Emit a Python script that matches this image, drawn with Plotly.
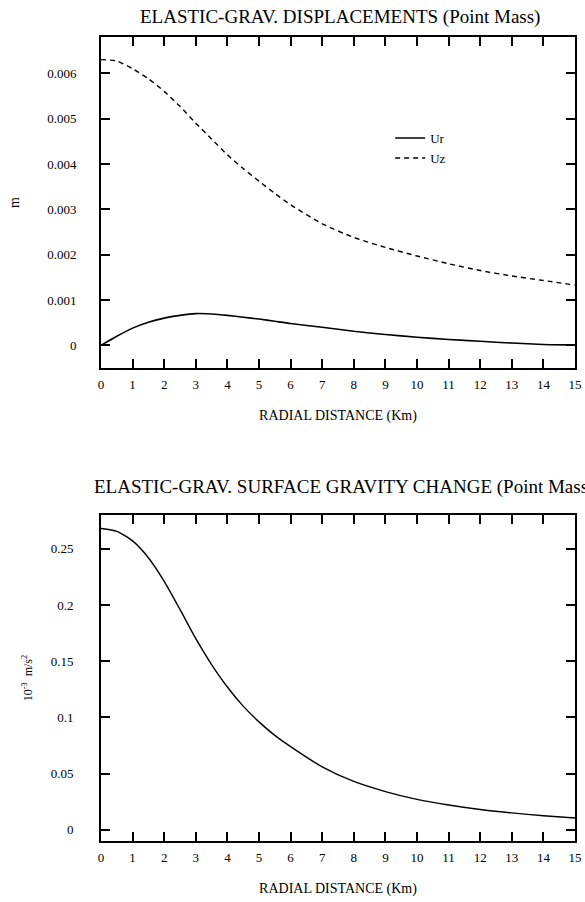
import plotly.graph_objects as go

# ---- data ----
distance_km = [0, 0.5, 1, 1.5, 2, 2.5, 3, 3.5, 4, 4.5, 5, 5.5, 6, 7, 8, 9, 10, 11, 12, 13, 14, 15]

ur_m = [0, 0.0002, 0.00038, 0.00051, 0.0006, 0.00066, 0.0007, 0.00069, 0.00066, 0.00062,
        0.00058, 0.00053, 0.00048, 0.0004, 0.00031, 0.00024, 0.00018, 0.00013, 0.00009,
        0.00005, 0.00002, 0.00001]

uz_m = [0.0063, 0.00627, 0.0061, 0.00588, 0.0056, 0.00527, 0.0049, 0.00455, 0.0042, 0.0039,
        0.00362, 0.00335, 0.0031, 0.00268, 0.00238, 0.00216, 0.00197, 0.0018, 0.00165,
        0.00153, 0.00143, 0.00133]

gravity_change = [0.268, 0.2655, 0.257, 0.242, 0.221, 0.196, 0.170, 0.147, 0.127, 0.110,
                  0.096, 0.084, 0.074, 0.056, 0.043, 0.034, 0.027, 0.022, 0.018, 0.015,
                  0.0125, 0.0105]

x_ticks = list(range(0, 16))
disp_ticks = [0, 0.001, 0.002, 0.003, 0.004, 0.005, 0.006]
disp_ticklabels = ["0", "0.001", "0.002", "0.003", "0.004", "0.005", "0.006"]
grav_ticks = [0, 0.05, 0.1, 0.15, 0.2, 0.25]
grav_ticklabels = ["0", "0.05", "0.1", "0.15", "0.2", "0.25"]

title_top = "ELASTIC-GRAV. DISPLACEMENTS (Point Mass)"
title_bottom = "ELASTIC-GRAV. SURFACE GRAVITY CHANGE (Point Mass)"
x_title = "RADIAL DISTANCE (Km)"

SERIF = "Liberation Serif, Times New Roman, serif"

fig = go.Figure()
fig.add_trace(go.Scatter(x=distance_km, y=ur_m, name="Ur", mode="lines",
                         line=dict(color="black", width=1.6, shape="spline", smoothing=0.6),
                         xaxis="x", yaxis="y"))
fig.add_trace(go.Scatter(x=distance_km, y=uz_m, name="Uz", mode="lines",
                         line=dict(color="black", width=1.4, dash="5px,4px", shape="spline", smoothing=0.6),
                         xaxis="x", yaxis="y"))
fig.add_trace(go.Scatter(x=distance_km, y=gravity_change, name="gravity change", mode="lines",
                         showlegend=False,
                         line=dict(color="black", width=1.4, shape="spline", smoothing=0.6),
                         xaxis="x2", yaxis="y2"))

common_axis = dict(
    showline=True, linecolor="black", linewidth=2, mirror="ticks",
    ticks="inside", ticklen=9, tickwidth=1.6, tickcolor="black",
    showgrid=False, zeroline=False, ticklabeloverflow="allow",
    tickfont=dict(family=SERIF, size=13, color="black"),
)

fig.update_layout(
    width=585, height=902,
    margin=dict(l=101, r=10, t=0, b=0),
    paper_bgcolor="white", plot_bgcolor="white",
    font=dict(family=SERIF, color="black"),
    xaxis=dict(domain=[0, 1], anchor="y", range=[0, 15], tickmode="array", tickvals=x_ticks,
               ticklabelstandoff=3,
               title=dict(text=x_title, font=dict(family=SERIF, size=14), standoff=20),
               **common_axis),
    yaxis=dict(domain=[0.592, 0.959], anchor="x", range=[-0.0005, 0.0068], tickmode="array",
               tickvals=disp_ticks, ticktext=disp_ticklabels, ticklabelstandoff=20,
               title=dict(text="m", font=dict(family=SERIF, size=14), standoff=24),
               **common_axis),
    xaxis2=dict(domain=[0, 1], anchor="y2", range=[0, 15], tickmode="array", tickvals=x_ticks,
                ticklabelstandoff=3,
                title=dict(text=x_title, font=dict(family=SERIF, size=14), standoff=20),
                **common_axis),
    yaxis2=dict(domain=[0.0676, 0.429], anchor="x2", range=[-0.01, 0.28], tickmode="array",
                tickvals=grav_ticks, ticktext=grav_ticklabels, ticklabelstandoff=23,
                title=dict(text="10<sup>-3</sup>  m/s<sup>2</sup>", font=dict(family=SERIF, size=12), standoff=15),
                **common_axis),
    legend=dict(x=0.61, y=0.8635, xanchor="left", yanchor="top", bgcolor="rgba(0,0,0,0)",
                font=dict(family=SERIF, size=13), tracegroupgap=0),
    annotations=[
        dict(text=title_top, xref="paper", yref="paper", x=0.504, y=0.981,
             xanchor="center", yanchor="middle", showarrow=False,
             font=dict(family=SERIF, size=19, color="black")),
        dict(text=title_bottom, xref="paper", yref="paper", x=-0.019, y=0.460,
             xanchor="left", yanchor="middle", showarrow=False,
             font=dict(family=SERIF, size=19, color="black")),
    ],
)

# remove the browser's default page margin so the 585x902 figure fills the window exactly
fig.write_html("out.html", config={"displayModeBar": False},
               post_script="document.body.style.margin='0';")
